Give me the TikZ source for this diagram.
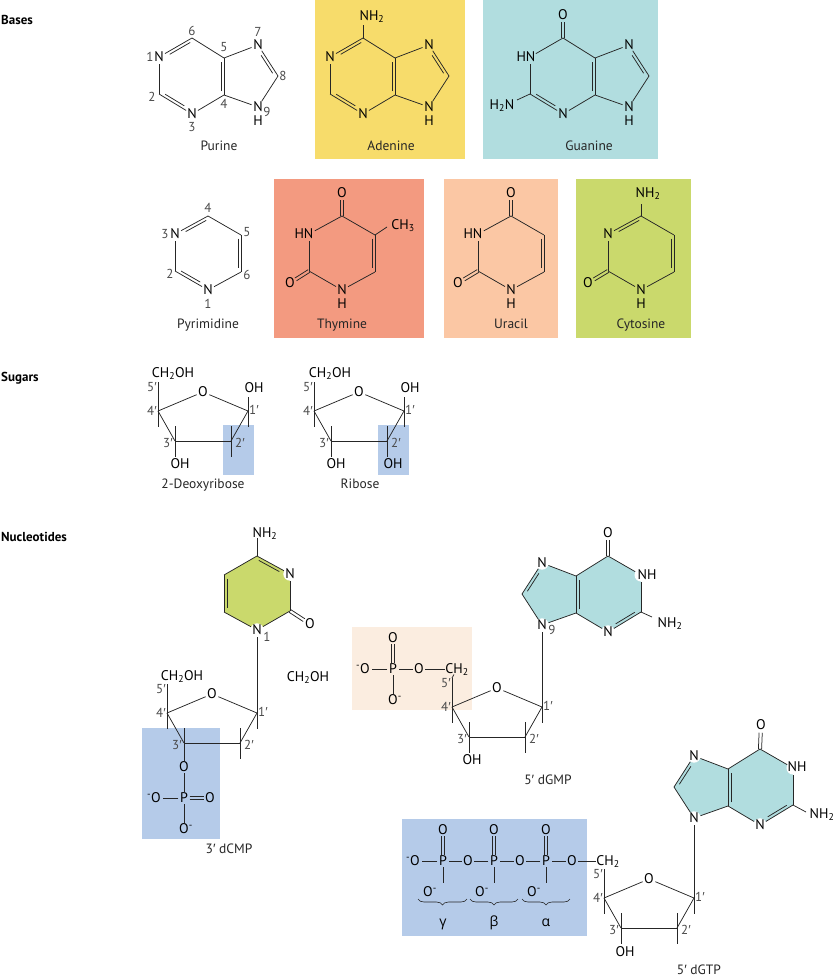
\documentclass[tikz,border=0pt]{standalone}
\usepackage{fontspec}
\setmainfont{PT Sans}
\newfontfamily\grk{Open Sans}
\newfontfamily\prmf{Liberation Sans}
\usetikzlibrary{calc,decorations.pathreplacing}
\definecolor{bondc}{HTML}{262626}
\definecolor{numc}{HTML}{4A4A4A}
\definecolor{yel}{HTML}{F7DC6B}
\definecolor{teal1}{HTML}{B1DDDF}
\definecolor{thy}{HTML}{F39A80}
\definecolor{ura}{HTML}{FBC7A4}
\definecolor{cyt}{HTML}{CAD96C}
\definecolor{blu}{HTML}{B5CBE9}
\definecolor{pea}{HTML}{FBEDE0}
\newcounter{tc}
\newcommand{\afont}{\fontsize{14}{14}\selectfont}
\newcommand{\cfont}{\fontsize{13.5}{14}\selectfont}
\newcommand{\mns}{\textsuperscript{-}}
\newcommand{\pr}{{\prmf ′}}
\tikzset{
  bond/.style={draw=bondc,line width=.75pt},
  atomc/.style={circle,inner sep=0pt,minimum size=13pt,font=\afont,text=black,text height=9.5pt,text depth=0pt},
  atomh/.style={atomc,fill=white},
  lbl/.style={inner sep=0pt,font=\afont,text=black,text height=9.5pt,text depth=0pt},
  atp/.style={inner sep=1.5pt,font=\afont,text=black,text height=9.5pt,text depth=0pt},
  num/.style={inner sep=0pt,font=\fontsize{13}{13}\selectfont,text=numc,text height=8.5pt,text depth=0pt},
  capt/.style={inner sep=0pt,font=\cfont,text=black!85,text height=9pt,text depth=0pt},
  sect/.style={inner sep=0pt,anchor=west,font=\fontsize{13}{13}\selectfont\bfseries,text=black,text height=9pt,text depth=0pt},
  curly/.style={draw=bondc,line width=.6pt,decorate,decoration={brace,mirror,amplitude=6pt,aspect=.5}},
}
% free text node with an automatic name
\newcommand{\tx}[3]{\stepcounter{tc}\node[#1] (t\thetc) at (#2) {#3};}
\newcommand{\bd}[2]{\draw[bond] (#1) -- (#2);}
\def\msign{1}
% double bond with a shorter inner line: a, b, trim at a, trim at b, side
\newcommand{\dbl}[5]{%
  \pgfmathsetmacro{\dang}{#5*\msign}%
  \pgfmathsetmacro{\dbng}{-#5*\msign}%
  \draw[bond] (#1) -- (#2);
  \draw[bond] ($(#1.center)!#3!(#2.center)!3pt!\dang:(#2.center)$) -- ($(#2.center)!#4!(#1.center)!3pt!\dbng:(#1.center)$);}
% symmetric double bond
\newcommand{\sym}[4]{%
  \draw[bond] ($(#1.center)!#3!(#2.center)!1.6pt!90:(#2.center)$) -- ($(#2.center)!#4!(#1.center)!1.6pt!-90:(#1.center)$);
  \draw[bond] ($(#1.center)!#3!(#2.center)!1.6pt!-90:(#2.center)$) -- ($(#2.center)!#4!(#1.center)!1.6pt!90:(#1.center)$);}
% purine skeleton: prefix, X, Y, sign, atom style, ring path style, text at N1
\newcommand{\purine}[7]{%
  \def\msign{#4}%
  \begin{scope}[shift={(#2,#3)},xscale=#4]
    \path[#6] (192,38)--(224,58)--(258,45)--(278,76)--(258,107)--(224,95)--(192,114)--(159,94)--(159,57)--cycle;
    \coordinate (#1C6) at (192,38);
    \coordinate (#1C5) at (224,58);
    \coordinate (#1C4) at (224,95);
    \coordinate (#1C2) at (159,94);
    \coordinate (#1C8) at (278,76);
    \node[#5] (#1N1) at (159,57) {#7};
    \node[#5] (#1N3) at (192,114) {N};
    \node[#5] (#1N7) at (258,45) {N};
    \node[#5] (#1N9) at (258,107) {N};
  \end{scope}
  \bd{#1C6}{#1C5}\bd{#1C5}{#1N7}\bd{#1C8}{#1N9}\bd{#1N9}{#1C4}\bd{#1C4}{#1N3}\bd{#1C2}{#1N1}
  \dbl{#1C4}{#1C5}{.1}{.1}{90}
  \dbl{#1N7}{#1C8}{.28}{.14}{-90}
  \dbl{#1C2}{#1N3}{.14}{.28}{90}
}
% pyrimidine skeleton: prefix, X, Y, sign, atom style, ring path style, text at N3, text at N1
\newcommand{\pyrim}[8]{%
  \def\msign{#4}%
  \begin{scope}[shift={(#2,#3)},xscale=#4]
    \path[#6] (208,216)--(241,235)--(241,272)--(208,290)--(175,271)--(175,234)--cycle;
    \coordinate (#1C4) at (208,216);
    \coordinate (#1C5) at (241,235);
    \coordinate (#1C6) at (241,272);
    \coordinate (#1C2) at (175,271);
    \node[#5] (#1N3) at (175,234) {#7};
    \node[#5] (#1N1) at (208,290) {#8};
  \end{scope}
  \bd{#1C4}{#1C5}\bd{#1C6}{#1N1}\bd{#1C2}{#1N3}
  \dbl{#1C5}{#1C6}{.1}{.1}{-90}
}
% sugar ring with stems and position numbers: prefix, X, Y
\newcommand{\sugar}[3]{%
  \begin{scope}[shift={(#2,#3)}]
    \coordinate (#1C4) at (158,411);
    \coordinate (#1C1) at (248,411);
    \coordinate (#1C2) at (231,441);
    \coordinate (#1C3) at (175,441);
    \coordinate (#1t4) at (158,382);
    \coordinate (#1b4) at (158,427);
    \coordinate (#1t1) at (248,397);
    \coordinate (#1b1) at (248,427);
    \coordinate (#1t3) at (175,426);
    \coordinate (#1b3) at (175,457);
    \coordinate (#1t2) at (231,426);
    \coordinate (#1b2) at (231,457);
    \node[atomc,minimum size=12pt] (#1O) at (203,392) {O};
    \tx{num}{152,387}{5\pr}
    \tx{num}{152,411}{4\pr}
    \tx{num}{168,443}{3\pr}
    \tx{num}{240,443}{2\pr}
    \tx{num}{254,410}{1\pr}
  \end{scope}
  \bd{#1C4}{#1O}\bd{#1O}{#1C1}\bd{#1C1}{#1C2}\bd{#1C2}{#1C3}\bd{#1C3}{#1C4}
  \bd{#1t4}{#1b4}\bd{#1t1}{#1b1}\bd{#1t3}{#1b3}\bd{#1t2}{#1b2}
}
\begin{document}
\begin{tikzpicture}[x=1pt,y=-1pt]
\useasboundingbox (0,0) rectangle (834,977);
% ---- coloured panels
\fill[yel] (315,0) rectangle (465,159);
\fill[teal1] (483,0) rectangle (658,159);
\fill[thy] (274,179) rectangle (424,338);
\fill[ura] (444,179) rectangle (558,338);
\fill[cyt] (576,179) rectangle (691,338);
\fill[blu] (223,425) rectangle (254,475);
\fill[blu] (378,425) rectangle (409,475);
\fill[blu] (142,728) rectangle (220,839);
\fill[pea] (352,627) rectangle (472,710);
\fill[blu] (402,819) rectangle (587,936);
% ---- section titles
\tx{sect}{1,20}{Bases}
\tx{sect}{1,377}{Sugars}
\tx{sect}{1,537}{Nucleotides}
% ---- purine
\purine{pu}{0}{0}{1}{atomc}{draw=none}{N}
\dbl{puN1}{puC6}{.28}{.1}{-90}
\tx{num}{150,57}{1}\tx{num}{152,97}{2}\tx{num}{192,127}{3}\tx{num}{224,104}{4}
\tx{num}{224,47}{5}\tx{num}{192,31}{6}\tx{num}{258,32}{7}\tx{num}{283,76}{8}
\tx{num}{267,112}{9}\tx{lbl}{258,121}{H}
\tx{capt}{219,146}{Purine}
% ---- adenine
\purine{ad}{171}{0}{1}{atomc}{draw=none}{N}
\dbl{adN1}{adC6}{.28}{.1}{-90}
\coordinate (adNs) at (363,25);
\bd{adC6}{adNs}
\tx{lbl}{372,16}{NH\textsubscript{2}}
\tx{lbl}{429,121}{H}
\tx{capt}{391,146}{Adenine}
% ---- guanine
\purine{gu}{371}{0}{1}{atomc}{draw=none}{}
\bd{guC6}{guN1}
\node[atomc] (guO) at (563,15) {O};
\sym{guC6}{guO}{0}{.32}
\coordinate (guNs) at (517,100);
\bd{guC2}{guNs}
\tx{lbl}{526,57}{HN}
\tx{lbl}{502,105}{H\textsubscript{2}N}
\tx{lbl}{629,121}{H}
\tx{capt}{589,146}{Guanine}
% ---- pyrimidine
\pyrim{py}{0}{0}{1}{atomc}{draw=none}{N}{N}
\dbl{pyN3}{pyC4}{.28}{.1}{-90}
\dbl{pyC2}{pyN1}{.14}{.28}{90}
\tx{num}{165,234}{3}\tx{num}{170,274}{2}\tx{num}{208,304}{1}
\tx{num}{208,208}{4}\tx{num}{247,232}{5}\tx{num}{247,275}{6}
\tx{capt}{208,324}{Pyrimidine}
% ---- thymine
\pyrim{th}{134}{0}{1}{atomc}{draw=none}{}{N}
\bd{thN3}{thC4}\bd{thN1}{thC2}
\node[atomc] (thO4) at (342,193) {O};
\node[atomc] (thO2) at (290,283) {O};
\sym{thC4}{thO4}{0}{.3}
\sym{thC2}{thO2}{0}{.3}
\coordinate (thMe) at (387,227);
\bd{thC5}{thMe}
\tx{lbl}{304,234}{HN}
\tx{lbl}{342,304}{H}
\tx{lbl}{403,225}{CH\textsubscript{3}}
\tx{capt}{342,324}{Thymine}
% ---- uracil
\pyrim{ur}{303}{0}{1}{atomc}{draw=none}{}{N}
\bd{urN3}{urC4}\bd{urN1}{urC2}
\node[atomc] (urO4) at (511,193) {O};
\node[atomc] (urO2) at (458,283) {O};
\sym{urC4}{urO4}{0}{.3}
\sym{urC2}{urO2}{0}{.3}
\tx{lbl}{473,234}{HN}
\tx{lbl}{511,304}{H}
\tx{capt}{511,324}{Uracil}
% ---- cytosine
\pyrim{cy}{433}{0}{1}{atomc}{draw=none}{N}{N}
\dbl{cyN3}{cyC4}{.28}{.1}{-90}
\bd{cyN1}{cyC2}
\node[atomc] (cyO2) at (588,283) {O};
\sym{cyC2}{cyO2}{0}{.3}
\coordinate (cyNs) at (641,204);
\bd{cyC4}{cyNs}
\tx{lbl}{648,193}{NH\textsubscript{2}}
\tx{lbl}{641,304}{H}
\tx{capt}{641,324}{Cytosine}
% ---- sugars
\sugar{de}{0}{0}
\tx{lbl}{173,373}{CH\textsubscript{2}OH}
\tx{lbl}{254,388}{OH}
\tx{lbl}{180,464}{OH}
\tx{capt}{203,484}{2-Deoxyribose}
\sugar{ri}{156}{0}
\tx{lbl}{330,373}{CH\textsubscript{2}OH}
\tx{lbl}{410,388}{OH}
\tx{lbl}{336,464}{OH}
\tx{lbl}{393,464}{OH}
\tx{capt}{360,484}{Ribose}
% ---- 3' dCMP
\pyrim{mc}{465}{340}{-1}{atomh}{fill=cyt}{N}{N}
\dbl{mcN3}{mcC4}{.28}{.1}{-90}
\bd{mcN1}{mcC2}
\node[atomc] (mcO2) at (310,624) {O};
\sym{mcC2}{mcO2}{0}{.3}
\coordinate (mcNs) at (257,538);
\bd{mcC4}{mcNs}
\tx{lbl}{265,533}{NH\textsubscript{2}}
\tx{num}{267,637}{1}
\def\msign{1}
\sugar{ms}{9}{302}
\bd{mst1}{mcN1}
\tx{lbl}{182,675.5}{CH\textsubscript{2}OH}
\tx{lbl}{308,677}{CH\textsubscript{2}OH}
\node[atp] (mpO1) at (184,767) {O};
\node[atp] (mpP) at (184,798) {P};
\node[atp] (mpO2) at (210,798) {O};
\node[atp] (mpO3) at (154,798) {\mns O};
\node[atp] (mpO4) at (186,829) {O\mns};
\bd{msb3}{mpO1}\bd{mpO1}{mpP}\bd{mpP}{mpO3}
\draw[bond] (mpP.south) -- (mpP.south|-mpO4.north);
\draw[bond] ([yshift=1.6pt]mpP.east) -- ([yshift=1.6pt]mpO2.west);
\draw[bond] ([yshift=-1.6pt]mpP.east) -- ([yshift=-1.6pt]mpO2.west);
\tx{capt}{229,849}{3\pr\ dCMP}
% ---- 5' dGMP
\purine{mg}{800}{518}{-1}{atomh}{fill=teal1}{}
\bd{mgC6}{mgN1}
\node[atomc] (mgO) at (608,533) {O};
\sym{mgC6}{mgO}{0}{.32}
\coordinate (mgNs) at (652,617);
\bd{mgC2}{mgNs}
\tx{lbl}{647,575}{NH}
\tx{lbl}{670,623}{NH\textsubscript{2}}
\tx{num}{552,630}{9}
\def\msign{1}
\sugar{gs}{294}{296}
\bd{gst1}{mgN9}
\node[atp,inner sep=0.5pt] (gpC) at (457,669) {CH\textsubscript{2}};
\node[atp] (gpO2) at (419,669) {O};
\node[atp] (gpP) at (393,669) {P};
\node[atp] (gpO3) at (363,669) {\mns O};
\node[atp] (gpO1) at (393,638) {O};
\node[atp] (gpO4) at (395,700) {O\mns};
\bd{gst4}{gpC}\bd{gpC}{gpO2}\bd{gpO2}{gpP}\bd{gpP}{gpO3}
\draw[bond] (gpP.south) -- (gpP.south|-gpO4.north);
\draw[bond] ([xshift=1.6pt]gpP.north) -- ([xshift=1.6pt]gpO1.south);
\draw[bond] ([xshift=-1.6pt]gpP.north) -- ([xshift=-1.6pt]gpO1.south);
\tx{lbl}{472,760}{OH}
\tx{capt}{548,780}{5\pr\ dGMP}
% ---- 5' dGTP
\purine{tg}{952}{711}{-1}{atomh}{fill=teal1}{}
\bd{tgC6}{tgN1}
\node[atomc] (tgO) at (761,725) {O};
\sym{tgC6}{tgO}{0}{.32}
\coordinate (tgNs) at (806,812);
\bd{tgC2}{tgNs}
\tx{lbl}{797,767}{NH}
\tx{lbl}{822,814}{NH\textsubscript{2}}
\def\msign{1}
\sugar{ts}{446}{487}
\bd{tst1}{tgN9}
\node[atp,inner sep=0.5pt] (tpC) at (608,861) {CH\textsubscript{2}};
\node[atp] (tpOa) at (572,861) {O};
\node[atp] (tpPa) at (546,861) {P};
\node[atp] (tpOb) at (520,861) {O};
\node[atp] (tpPb) at (494,861) {P};
\node[atp] (tpOg) at (468,861) {O};
\node[atp] (tpPg) at (443,861) {P};
\node[atp] (tpOm) at (413,861) {\mns O};
\node[atp] (tpUa) at (546,830) {O};
\node[atp] (tpUb) at (494,830) {O};
\node[atp] (tpUg) at (443,830) {O};
\node[atp] (tpDa) at (534,892) {O\mns};
\node[atp] (tpDb) at (482,892) {O\mns};
\node[atp] (tpDg) at (430,892) {O\mns};
\coordinate (tpSa) at (546,883);
\coordinate (tpSb) at (494,883);
\coordinate (tpSg) at (443,883);
\bd{tpC}{tpOa}\bd{tpOa}{tpPa}\bd{tpPa}{tpOb}\bd{tpOb}{tpPb}\bd{tpPb}{tpOg}\bd{tpOg}{tpPg}\bd{tpPg}{tpOm}
\bd{tpPa}{tpSa}\bd{tpPb}{tpSb}\bd{tpPg}{tpSg}
\foreach \s in {a,b,g}{
  \draw[bond] ([xshift=1.6pt]tpP\s.north) -- ([xshift=1.6pt]tpU\s.south);
  \draw[bond] ([xshift=-1.6pt]tpP\s.north) -- ([xshift=-1.6pt]tpU\s.south);
}
\coordinate (brgA) at (418,899); \coordinate (brgB) at (467,899);
\coordinate (brbA) at (470,899); \coordinate (brbB) at (518,899);
\coordinate (braA) at (522,899); \coordinate (braB) at (570,899);
\draw[curly] (brgA) -- (brgB);
\draw[curly] (brbA) -- (brbB);
\draw[curly] (braA) -- (braB);
\tx{lbl}{443,922}{\grk γ}
\tx{lbl}{494,922}{\grk β}
\tx{lbl}{546,922}{\grk α}
\tx{lbl}{625,952}{OH}
\tx{capt}{699,970}{5\pr\ dGTP}
\end{tikzpicture}
\end{document}
